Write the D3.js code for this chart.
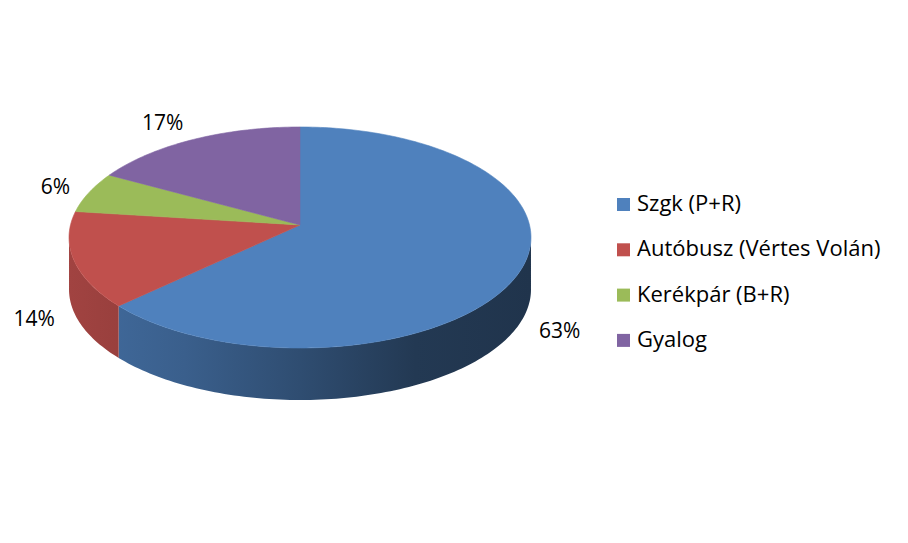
<!DOCTYPE html>
<html>
<head>
<meta charset="utf-8">
<script src="https://cdn.jsdelivr.net/npm/d3@7"></script>
<style>
  body { margin: 0; background: #fff; }
  text { font-family: "Open Sans", sans-serif; fill: #000; }
</style>
</head>
<body>
<svg id="chart" width="908" height="543"></svg>
<script>
// data
var categories = ["Szgk (P+R)", "Autóbusz (Vértes Volán)", "Kerékpár (B+R)", "Gyalog"];
var values = [63, 14, 6, 17];
var colors = ["#4F81BD", "#C0504D", "#9BBB59", "#8064A2"];

var svg = d3.select("#chart");
var W = 908, H = 543;
svg.append("rect").attr("width", W).attr("height", H).attr("fill", "#fff");

// pie geometry: circle seen in perspective, apex = projected centre
var apex = [300, 225];
var k = 0.113, a = 229.5, b = 109.1, depth = 52;

var pie = d3.pie().sort(null).value(d => d)(values);
var total = d3.sum(values);

// angle clockwise from top -> screen point on the rim
function proj(t, dy) {
  var u = Math.sin(t), v = Math.cos(t), w = 1 + k * v;
  return [apex[0] + a * u / w, apex[1] - b * v / w + (dy || 0)];
}
function rim(s, e, dy) {
  var n = Math.max(2, Math.ceil((e - s) / 0.02));
  return d3.range(n + 1).map(i => proj(s + (e - s) * i / n, dy));
}
var line = d3.line();

var defs = svg.append("defs");
colors.forEach(function(c, i) {
  var base = d3.rgb(c);
  var g = defs.append("linearGradient")
    .attr("id", "side" + i)
    .attr("gradientUnits", "userSpaceOnUse")
    .attr("x1", apex[0] - 231).attr("x2", apex[0] + 231)
    .attr("y1", 0).attr("y2", 0);
  [[0, 0.84], [0.25, 0.74], [0.5, 0.6], [0.75, 0.44], [1, 0.4]].forEach(function(s) {
    var f = s[1];
    g.append("stop").attr("offset", s[0])
      .attr("stop-color", d3.rgb(base.r * f, base.g * f, base.b * f));
  });
});

// sides, only the front part between the left and right silhouette points
var tL = Math.acos(-k), tR = 2 * Math.PI - Math.acos(-k);
var sides = svg.append("g");
pie.forEach(function(d, i) {
  var s = Math.max(d.startAngle, tL);
  var e = Math.min(d.endAngle, tR);
  if (e <= s) return;
  var pts = rim(s, e, 0).concat(rim(s, e, depth).reverse());
  sides.append("path").attr("d", line(pts) + "Z")
    .attr("fill", "url(#side" + i + ")");
});

// top faces
var tops = svg.append("g");
pie.forEach(function(d, i) {
  var pts = [apex].concat(rim(d.startAngle, d.endAngle, 0));
  tops.append("path").attr("d", line(pts) + "Z")
    .attr("fill", colors[i])
    .attr("stroke", colors[i]).attr("stroke-width", 0.6);
});

// percent labels, pushed outside the rim
var fmt = d3.format(".0%");
var gap = 20;
svg.append("g").selectAll("text")
  .data(pie)
  .join("text")
  .attr("text-anchor", "middle")
  .attr("dominant-baseline", "central")
  .attr("font-size", 21)
  .text(d => fmt(d.value / total))
  .each(function(d) {
    var t = (d.startAngle + d.endAngle) / 2;
    var u = Math.sin(t), v = Math.cos(t);
    var p = proj(t, v < 0 ? depth : 0);
    var hw = this.getComputedTextLength() / 2;
    d3.select(this)
      .attr("x", p[0] + Math.sign(u) * hw + gap * u)
      .attr("y", p[1] - gap * v);
  });

// legend
var leg = svg.append("g").attr("transform", "translate(617,211)");
var rows = leg.selectAll("g").data(categories).join("g")
  .attr("transform", (d, i) => "translate(0," + (i * 45.3) + ")");
rows.append("rect").attr("x", 0).attr("y", -13).attr("width", 13).attr("height", 13)
  .attr("fill", (d, i) => colors[i]);
rows.append("text").attr("x", 20).attr("y", 0)
  .attr("font-size", 22)
  .text(d => d);
</script>
</body>
</html>
